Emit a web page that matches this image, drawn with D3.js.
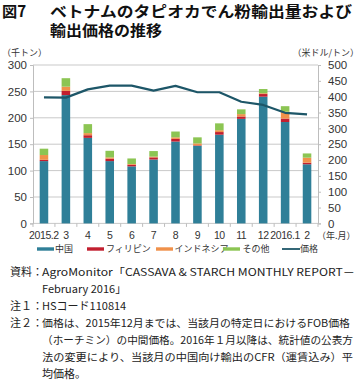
<!DOCTYPE html>
<html><head><meta charset="utf-8">
<script src="https://cdn.jsdelivr.net/npm/d3@7"></script>
<style>
html,body{margin:0;padding:0;background:#fff;}
svg{display:block;font-family:"Noto Sans CJK JP","Noto Sans",sans-serif;}
.num{font-family:"Liberation Sans",Arial,sans-serif;}
</style></head>
<body><svg id="c" width="360" height="381"></svg>
<script>
const categories = ["2015.2","3","4","5","6","7","8","9","10","11","12","2016.1","2"];
const china      = [118, 243, 162, 118, 108, 121, 155, 147, 168, 198, 240, 192, 112];
const philippines= [2.5, 8, 5, 4.5, 3, 4, 5, 1, 5, 4.5, 5, 6.5, 3];
const indonesia  = [9, 8, 4, 2.5, 1.5, 1.5, 3, 3.5, 3.5, 4.5, 1.5, 13, 9.5];
const others     = [12, 16, 17, 12.5, 10.5, 10.5, 11, 11.5, 13, 9, 8, 10.5, 8];
const price      = [398, 397, 423, 435, 435, 419, 434, 414, 414, 384, 374, 349, 344];
const leftTicks  = [0, 50, 100, 150, 200, 250, 300];
const rightTicks = [0, 50, 100, 150, 200, 250, 300, 350, 400, 450, 500];
const seriesNames = ["中国", "フィリピン", "インドネシア", "その他"];
const priceName = "価格";

const colors = ["#2f7f98", "#c21f2f", "#f0914a", "#8cc553"];
const lineColor = "#1d5668";

const svg = d3.select("#c");
const X0 = 33, X1 = 318, YT = 65, YB = 223.4;

const x = d3.scaleBand().domain(categories).range([X0, X1]).paddingInner(0.61).paddingOuter(0.305);
const xEdge = d3.scaleBand().domain(categories).range([X0, X1]).padding(0);
const yL = d3.scaleLinear().domain([0, 300]).range([YB, YT]);
const yR = d3.scaleLinear().domain([0, 500]).range([YB, YT]);

// Title
svg.append("text").attr("x", 2).attr("y", 16.5).attr("font-size", 15.2).attr("font-weight", 700).attr("fill", "#111").text("図7");
svg.append("text").attr("x", 50).attr("y", 16.5).attr("font-size", 15.2).attr("font-weight", 700).attr("fill", "#111")
  .attr("textLength", 302).attr("lengthAdjust", "spacingAndGlyphs").text("ベトナムのタピオカでん粉輸出量および");
svg.append("text").attr("x", 50).attr("y", 35.5).attr("font-size", 15.2).attr("font-weight", 700).attr("fill", "#111")
  .attr("textLength", 112).attr("lengthAdjust", "spacingAndGlyphs").text("輸出価格の推移");

// Unit labels
svg.append("text").attr("x", 2).attr("y", 55.5).attr("font-size", 9).attr("fill", "#333").text("（千トン）");
svg.append("text").attr("x", 359).attr("y", 55.5).attr("font-size", 9).attr("fill", "#333").attr("text-anchor", "end").text("（米ドル/トン）");

// Gridlines
svg.append("g").selectAll("line").data(leftTicks).join("line")
  .attr("x1", X0).attr("x2", X1).attr("y1", d => yL(d)).attr("y2", d => yL(d))
  .attr("stroke", "#c9c9c9").attr("stroke-width", 1);

// Left axis
const gL = svg.append("g").attr("transform", `translate(${X0},0)`)
  .call(d3.axisLeft(yL).tickValues(leftTicks).tickSize(3).tickPadding(3));
gL.select(".domain").attr("stroke", "#bdbdbd");
gL.selectAll(".tick line").attr("stroke", "#bdbdbd");
gL.selectAll(".tick text").attr("class", "num").attr("font-size", 11.5).attr("fill", "#333");

// Right axis
const gR = svg.append("g").attr("transform", `translate(${X1},0)`)
  .call(d3.axisRight(yR).tickValues(rightTicks).tickSize(3).tickPadding(7));
gR.select(".domain").attr("stroke", "#bdbdbd");
gR.selectAll(".tick line").attr("stroke", "#bdbdbd");
gR.selectAll(".tick text").attr("class", "num").attr("font-size", 11.5).attr("fill", "#333");

// Bottom ticks at band edges
const edges = categories.map(c => xEdge(c)).concat([X1]);
svg.append("g").selectAll("line").data(edges).join("line")
  .attr("x1", d => d).attr("x2", d => d).attr("y1", YB).attr("y2", YB + 3.5)
  .attr("stroke", "#bdbdbd");

// X labels
svg.append("g").selectAll("text").data(categories).join("text")
  .attr("class", "num").attr("x", d => x(d) + x.bandwidth() / 2).attr("y", 238.5)
  .attr("text-anchor", "middle").attr("font-size", 10.5).attr("letter-spacing", -0.4).attr("fill", "#333").text(d => d);
svg.append("text").attr("x", 317).attr("y", 239).attr("font-size", 9).attr("fill", "#333").text("（年.月）");

// Stacked bars
const table = categories.map((c, i) => ({cat: c, s0: china[i], s1: philippines[i], s2: indonesia[i], s3: others[i]}));
const stack = d3.stack().keys(["s0", "s1", "s2", "s3"])(table);
svg.append("g").selectAll("g").data(stack).join("g").attr("fill", (d, i) => colors[i])
  .selectAll("rect").data(d => d).join("rect")
  .attr("x", d => x(d.data.cat)).attr("width", x.bandwidth())
  .attr("y", d => yL(d[1])).attr("height", d => yL(d[0]) - yL(d[1]));

// Price line
const line = d3.line().x((d, i) => x(categories[i]) + x.bandwidth() / 2).y(d => yR(d));
svg.append("path").datum(price).attr("d", line).attr("fill", "none")
  .attr("stroke", lineColor).attr("stroke-width", 2.2).attr("stroke-linejoin", "round");

// Legend
const legY = 249;
const legItems = [
  {sx: 37, tx: 55, name: seriesNames[0], c: colors[0], t: "bar"},
  {sx: 87, tx: 106, name: seriesNames[1], c: colors[1], t: "bar"},
  {sx: 156, tx: 174.5, name: seriesNames[2], c: colors[2], t: "bar"},
  {sx: 223, tx: 242.5, name: seriesNames[3], c: colors[3], t: "bar"},
  {sx: 282, tx: 300, name: priceName, c: lineColor, t: "line"}
];
const lg = svg.append("g");
legItems.forEach(it => {
  if (it.t === "bar") lg.append("rect").attr("x", it.sx).attr("y", legY - 1.7).attr("width", 17).attr("height", 3.4).attr("fill", it.c);
  else lg.append("line").attr("x1", it.sx).attr("x2", it.sx + 18).attr("y1", legY).attr("y2", legY).attr("stroke", it.c).attr("stroke-width", 1.8);
  lg.append("text").attr("x", it.tx).attr("y", legY).attr("dy", "0.36em").attr("font-size", 9).attr("fill", "#333").text(it.name);
});

// Notes
const notes = [
  {y: 272.5, lab: "資料：", txt: "AgroMonitor「CASSAVA & STARCH MONTHLY REPORT－", w: 313},
  {y: 289.5, lab: "", txt: "February 2016」", w: 0},
  {y: 306.5, lab: "注１：", txt: "HSコード110814", w: 0},
  {y: 323.5, lab: "注２：", txt: "価格は、2015年12月までは、当該月の特定日におけるFOB価格", w: 308},
  {y: 340.5, lab: "", txt: "（ホーチミン）の中間価格。2016年１月以降は、統計値の公表方", w: 311},
  {y: 357.3, lab: "", txt: "法の変更により、当該月の中国向け輸出のCFR（運賃込み）平", w: 311},
  {y: 373.6, lab: "", txt: "均価格。", w: 0}
];
const ng = svg.append("g").attr("fill", "#222");
notes.forEach(n => {
  if (n.lab) ng.append("text").attr("x", 10).attr("y", n.y).attr("dy", "0.36em").attr("font-size", 11).text(n.lab);
  const t = ng.append("text").attr("x", 42).attr("y", n.y).attr("dy", "0.36em").attr("font-size", n.w ? 10.6 : 11).text(n.txt);
  if (n.w) t.attr("textLength", n.w).attr("lengthAdjust", "spacingAndGlyphs");
});
</script></body></html>
